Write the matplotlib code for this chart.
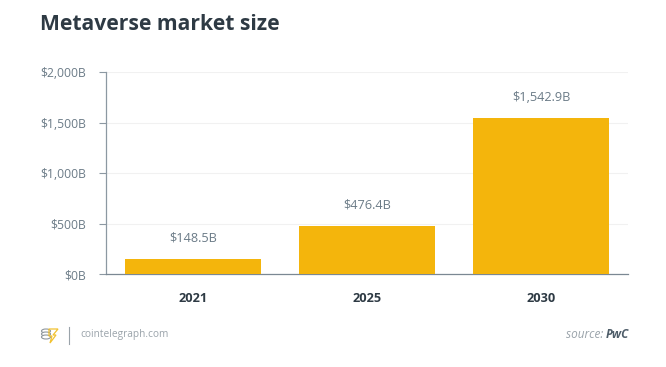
import matplotlib.pyplot as plt
from matplotlib.patches import Ellipse, Polygon

# data
years = ['2021', '2025', '2030']
market_size = [148.5, 476.4, 1542.9]  # billions USD
value_labels = ['$148.5B', '$476.4B', '$1,542.9B']
y_ticks = [0, 500, 1000, 1500, 2000]
y_tick_labels = ['$0B', '$500B', '$1,000B', '$1,500B', '$2,000B']

plt.rcParams['font.family'] = ['Open Sans', 'DejaVu Sans']

bar_color = '#F4B50C'
text_grey = '#6b7b87'
dark = '#2e3a44'

fig = plt.figure(figsize=(6.66, 3.67), dpi=100)
ax = fig.add_axes([106/666, 1 - 274/367, 522/666, 202/367])

x = range(len(years))
ax.bar(x, market_size, width=0.785, color=bar_color, zorder=3)
for i, v in enumerate(market_size):
    ax.annotate(value_labels[i], (i, v), xytext=(0, 15), textcoords='offset points',
                ha='center', va='center', fontsize=9.2, color=text_grey)

ax.set_xlim(-0.5, 2.5)
ax.set_ylim(0, 2000)
ax.set_yticks(y_ticks)
ax.set_yticklabels(y_tick_labels)
ax.set_xticks(list(x))
ax.set_xticklabels(years, fontweight='bold', color=dark)
ax.tick_params(axis='y', length=5, width=0.8, color='#8c98a2', labelsize=8.7,
               labelcolor=text_grey, pad=9.5)
ax.tick_params(axis='x', length=0, labelsize=9.2, pad=13)
ax.grid(axis='y', color='#f1f1f1', linewidth=0.8, zorder=0)
for s in ['top', 'right']:
    ax.spines[s].set_visible(False)
ax.spines['left'].set_color('#8c98a2')
ax.spines['left'].set_linewidth(0.9)
ax.spines['bottom'].set_color('#7b8893')
ax.spines['bottom'].set_linewidth(0.9)

fig.text(40/666, 1 - 25/367, 'Metaverse market size', fontsize=15.2, fontweight='bold',
         color=dark, ha='left', va='center')

# footer
fig.text(80/666, 1 - 335/367, 'cointelegraph.com', fontsize=7.3, color='#9aa3aa',
         ha='left', va='center')
fig.add_artist(plt.Line2D([69/666, 69/666], [1 - 327/367, 1 - 344/367],
                          color='#9aa3aa', linewidth=0.8))
# small coin / bolt logo
for k in range(3):
    fig.add_artist(Ellipse((46/666, 1 - (331 + 3*k)/367), 9/666, 4/367,
                           facecolor='white', edgecolor='#8f979d', linewidth=0.8))
fig.add_artist(Polygon([(49/666, 1 - 329/367), (58/666, 1 - 329/367), (53/666, 1 - 335/367),
                        (56/666, 1 - 335/367), (50/666, 1 - 343/367), (52/666, 1 - 336/367),
                        (49/666, 1 - 336/367)], closed=True, facecolor='none',
                       edgecolor='#f2c230', linewidth=0.9))

fig.text(606/666, 1 - 335/367, 'source: ', fontsize=8.5, style='italic', color='#9aa3aa',
         ha='right', va='center')
fig.text(629/666, 1 - 335/367, 'PwC', fontsize=8.5, style='italic', fontweight='bold',
         color='#4f5e6a', ha='right', va='center')

fig.savefig('out.png', dpi=100)
